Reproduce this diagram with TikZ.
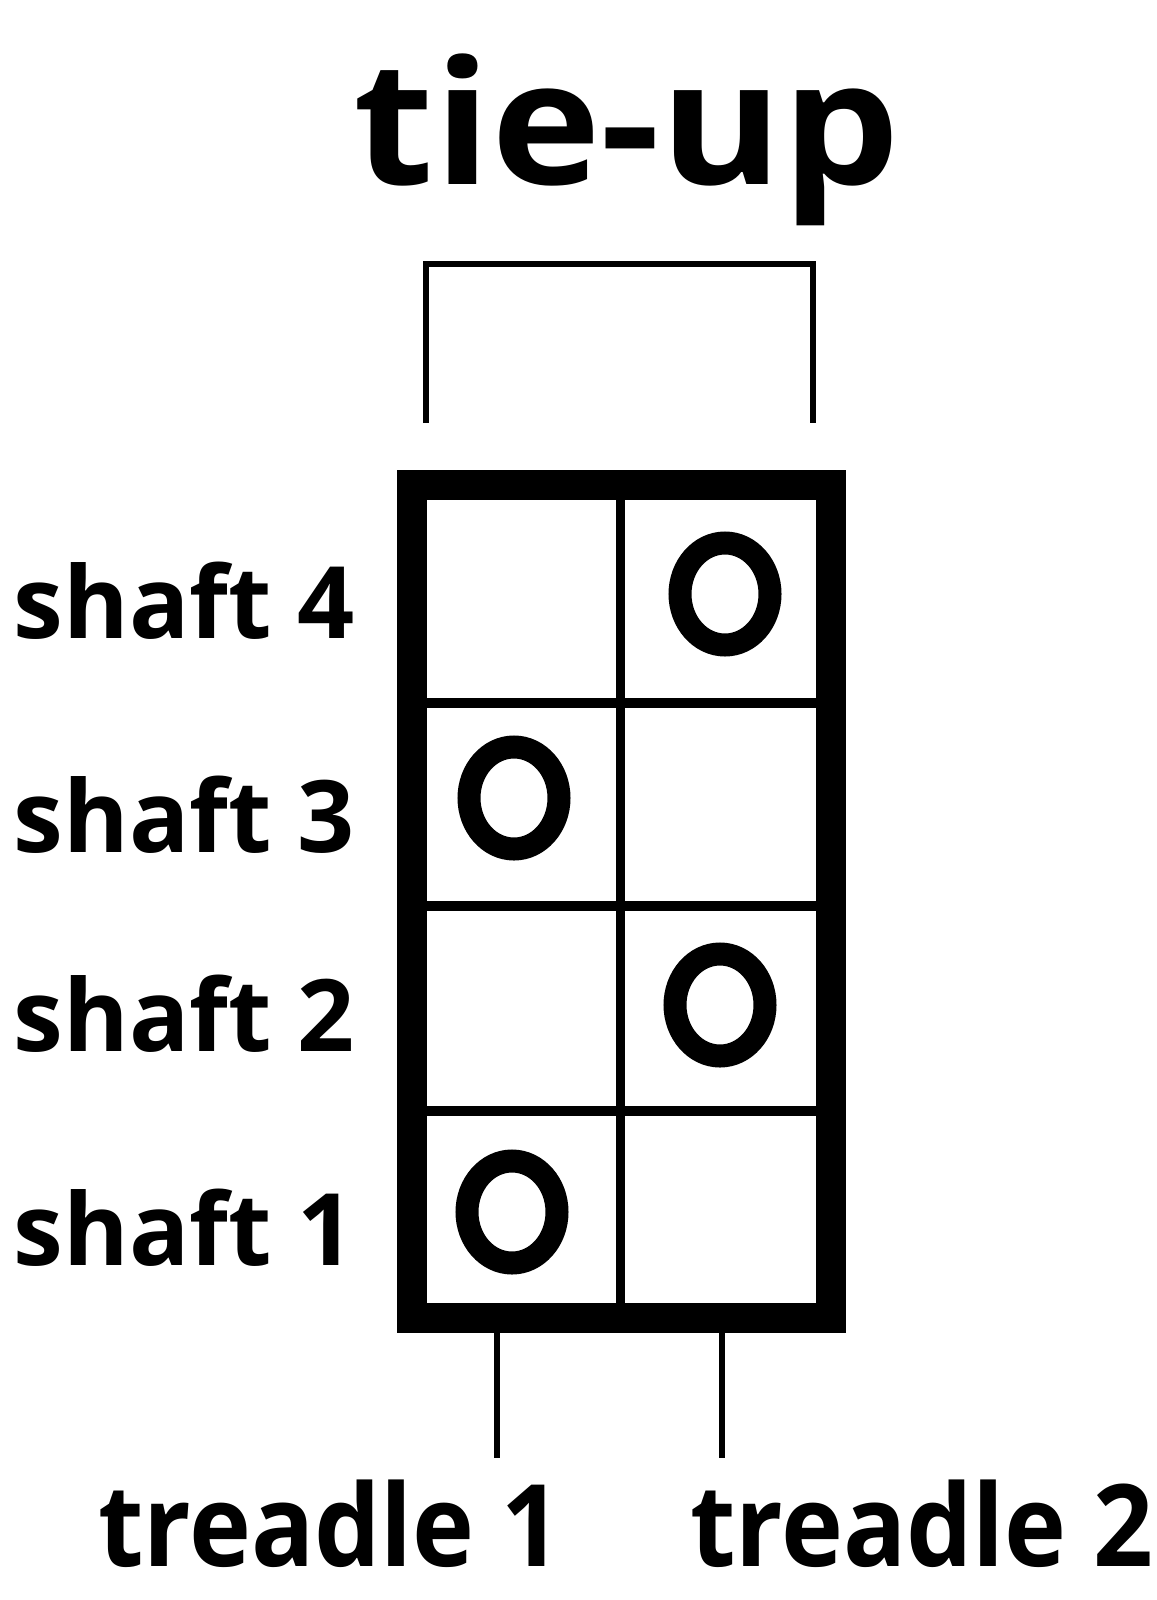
\documentclass[tikz,border=0pt]{standalone}
\usepackage{fontspec}
\setmainfont{Open Sans}
\newfontfamily\titlefont{Open Sans}[FakeStretch=1.08]
\newfontfamily\treadfont{Open Sans}[FakeStretch=0.92]
\begin{document}
\begin{tikzpicture}[x=1pt,y=-1pt]
\tikzset{titre/.style={font=\titlefont\bfseries\fontsize{172}{172}\selectfont, inner sep=0pt, anchor=base},
lbl/.style={font=\bfseries\fontsize{100}{100}\selectfont, inner sep=0pt, anchor=base east},
tread/.style={font=\treadfont\bfseries\fontsize{114}{114}\selectfont, inner sep=0pt, anchor=base},
marque/.style={line width=23pt},
trait/.style={line width=5.5pt}};
\useasboundingbox (0,0) rectangle (1156,1600);
\node[titre] (title) at (627,184) {tie-up};

\coordinate (bkL) at (426,423);
\coordinate (bkTL) at (426,264);
\coordinate (bkTR) at (813,264);
\coordinate (bkR) at (813,423);
\draw[trait] (bkL) -- (bkTL) -- (bkTR) -- (bkR);

\draw[line width=30pt] (412,485) rectangle (831,1318);
\draw[line width=9pt] (620,485) -- (620,1318);
\foreach \y in {703,906,1111} {
	\draw[line width=10pt] (412,\y) -- (831,\y);
}
\foreach \x/\y in {725/594, 514/798, 720/1005, 512/1212} {
	\draw[marque] (\x,\y) ellipse (45pt and 51pt);
}

\foreach \n/\y in {4/638, 3/852, 2/1051, 1/1265} {
	\node[lbl] (s\n) at (355,\y) {shaft \n};
}

\node[tread] (t1) at (330,1566) {treadle 1};
\node[tread] (t2) at (922,1566) {treadle 2};
\coordinate (p1) at (497,1306);
\coordinate (p2) at (722,1306);
\draw[trait] (p1) -- (497,1458);
\draw[trait] (p2) -- (722,1458);
\end{tikzpicture}
\end{document}
